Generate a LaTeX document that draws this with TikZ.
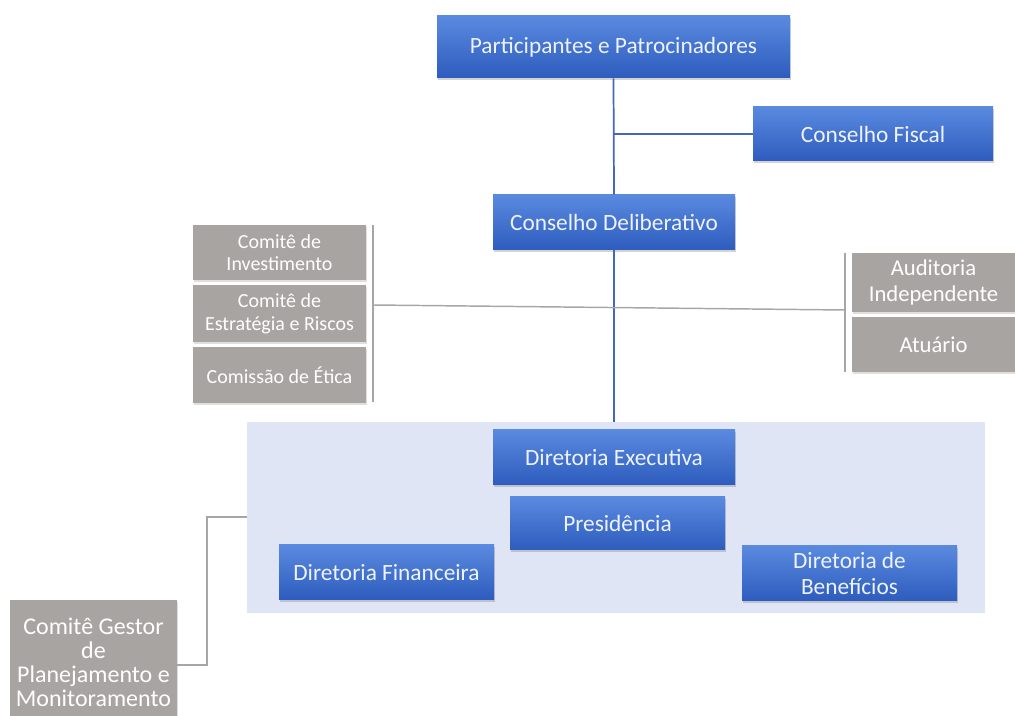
\documentclass[tikz,border=0pt]{standalone}
\usepackage{fontspec}
\setmainfont{Carlito}
\usetikzlibrary{shadows}

\definecolor{boxtop}{HTML}{5A8ADF}
\definecolor{boxbot}{HTML}{2D5CBE}
\definecolor{bluetxt}{HTML}{EEF2FB}
\definecolor{bluelink}{HTML}{4468B8}
\definecolor{grayfill}{HTML}{A8A4A1}
\definecolor{graylink}{HTML}{A6A6A6}
\definecolor{areafill}{HTML}{DFE5F4}

\begin{document}
\begin{tikzpicture}[x=0.75pt,y=0.75pt,yscale=-1,xscale=1,
  sz/.style 2 args={minimum width=#1*0.75pt,minimum height=#2*0.75pt},
  bluebox/.style={top color=boxtop,bottom color=boxbot,draw=none,text=bluetxt,
    font=\fontsize{17.5}{19}\selectfont,align=center,inner sep=0pt,
    drop shadow={shadow xshift=1pt,shadow yshift=-1.5pt,opacity=0.35}},
  graybox/.style={fill=grayfill,draw=none,text=white,
    font=\fontsize{15}{17}\selectfont,align=center,inner sep=0pt,
    drop shadow={shadow xshift=1pt,shadow yshift=-1.5pt,opacity=0.25}},
  bluewire/.style={draw=bluelink,line width=1.3pt},
  graywire/.style={draw=graylink,line width=1.1pt}]
\useasboundingbox (0,0) rectangle (1015,716);

%Shape: Rectangle [id:area]
\fill[areafill] (247,422) rectangle (985,613);
\coordinate (areatop) at (614,422);
\coordinate (arealeft) at (247,517);

% Text Node
\node[bluebox,sz={353}{62}] (pp) at (613.5,47) {Participantes e Patrocinadores};
% Text Node
\node[bluebox,sz={240}{54}] (cf) at (873,134) {Conselho Fiscal};
% Text Node
\node[bluebox,sz={242}{55}] (cd) at (614,222.5) {Conselho Deliberativo};

% Text Node
\node[graybox,sz={173}{55}] (ci) at (279.5,252.5) {Comitê de\\Investimento};
% Text Node
\node[graybox,sz={173}{57}] (cer) at (279.5,313.5) {Comitê de\\Estratégia e Riscos};
% Text Node
\node[graybox,sz={173}{56}] (ce) at (279.5,375) {Comissão de Ética};

% Text Node
\node[graybox,font=\fontsize{17}{19}\selectfont,sz={163}{59}] (ai) at (933.5,282.5) {Auditoria\\Independente};
% Text Node
\node[graybox,font=\fontsize{17}{19}\selectfont,sz={163}{55}] (at) at (933.5,344.5) {Atuário};

% Text Node
\node[bluebox,sz={242}{55}] (de) at (614,457.5) {Diretoria Executiva};
% Text Node
\node[bluebox,sz={215}{53}] (pr) at (617.5,523.5) {Presidência};
% Text Node
\node[bluebox,sz={215}{55}] (df) at (386.5,572.5) {Diretoria Financeira};
% Text Node
\node[bluebox,sz={215}{55}] (db) at (849.5,573.5) {Diretoria de\\Benefícios};

% Text Node
\node[graybox,font=\fontsize{18}{18}\selectfont,sz={167}{124},anchor=north] (cg) at (93.5,600) {Comitê Gestor\\de\\Planejamento e\\Monitoramento};

%Straight Lines
\draw[bluewire] (pp.south) -- (cd.north);
\draw[bluewire] (pp.south |- cf.west) -- (cf.west);
\draw[bluewire] (cd.south) -- (areatop);

%Straight Lines [brackets]
\coordinate (lbr) at (373,305);
\coordinate (rbr) at (845,310);
\draw[graywire] (373,225) -- (373,402);
\draw[graywire] (845,253) -- (845,372);
\draw[graywire] (lbr) -- (rbr);

%Straight Lines
\draw[graywire] (cg.east |- 0,665) -- (207,665) |- (arealeft);

\end{tikzpicture}
\end{document}
